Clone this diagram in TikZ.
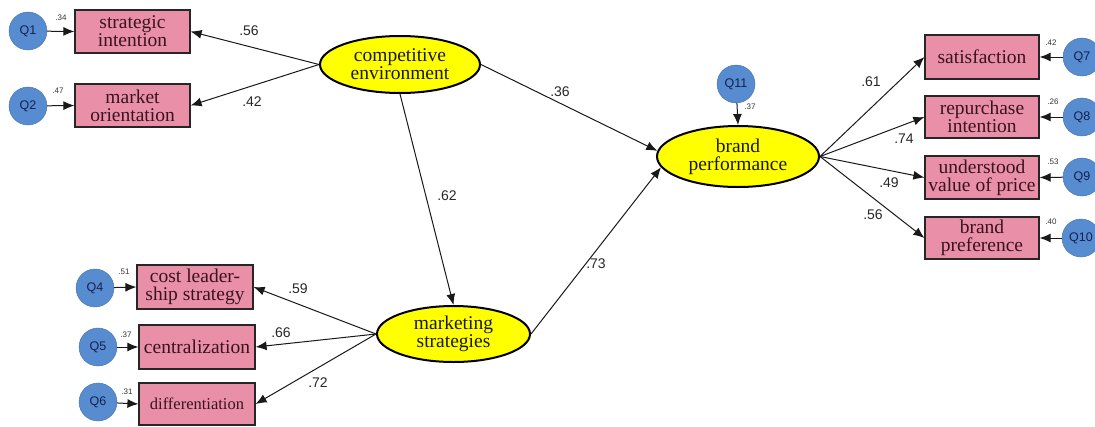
\documentclass[tikz,border=0pt]{standalone}
\usepackage{fontspec}
\setmainfont{Liberation Serif}
\newfontfamily\numfont{Liberation Sans}
\usetikzlibrary{shapes.geometric,arrows.meta}
\definecolor{boxpink}{RGB}{234,143,168}
\definecolor{qblue}{RGB}{88,140,208}
\definecolor{qtext}{RGB}{22,32,80}
\definecolor{latyellow}{RGB}{255,255,0}
\definecolor{boxtext}{RGB}{55,20,30}
\tikzset{
  obsbox/.style={draw=black!85, line width=1.2pt, fill=boxpink, text=boxtext, inner sep=0pt,
    minimum width=115pt, minimum height=43pt, align=center,
    font=\fontsize{19.5}{18}\selectfont},
  latent/.style={ellipse, draw=black, line width=2pt, fill=latyellow, inner sep=0pt,
    align=center, text=black!90, font=\fontsize{19.5}{18}\selectfont},
  errc/.style={circle, fill=qblue, draw=qblue!80!black, line width=0.4pt, minimum size=38pt,
    inner sep=0pt, text=qtext, font=\numfont\fontsize{12.5}{12.5}\selectfont},
  coef/.style={font=\numfont\fontsize{14}{14}\selectfont, inner sep=0pt, text=black!85},
  small/.style={font=\numfont\fontsize{8}{8}\selectfont, inner sep=0pt, text=black!80},
  path/.style={draw=black!90, line width=1pt, -{Latex[length=11pt,width=9pt]}},
}
\begin{document}
\begin{tikzpicture}[x=1pt,y=-1pt]
\useasboundingbox (0,0) rectangle (1095,426);
\clip (0,0) rectangle (1095,426);
% observed boxes
\node[obsbox] (si) at (132.5,31.5) {strategic\\intention};
\node[obsbox] (mo) at (132.5,105.5) {market\\orientation};
\node[obsbox, minimum width=116pt, minimum height=44pt] (cl) at (195,287) {cost leader-\\ship strategy};
\node[obsbox, minimum width=116pt, minimum height=44pt] (cz) at (197,347) {centralization};
\node[obsbox, minimum width=116pt, minimum height=42pt, font=\fontsize{16.5}{16}\selectfont] (di) at (197,404) {differentiation};
\node[obsbox, minimum width=114pt, minimum height=44pt] (sa) at (982,57) {satisfaction};
\node[obsbox, minimum width=114pt, minimum height=42pt] (ri) at (982,117) {repurchase\\intention};
\node[obsbox, minimum width=114pt, minimum height=43pt] (uv) at (982,177.5) {understood\\value of price};
\node[obsbox, minimum width=114pt, minimum height=42pt] (bf) at (982,238) {brand\\preference};
% latent ellipses
\node[latent, minimum width=160pt, minimum height=57pt] (ce) at (400,64.5) {competitive\\environment};
\node[latent, minimum width=153pt, minimum height=56pt] (ms) at (453.5,334) {marketing\\strategies};
\node[latent, minimum width=162pt, minimum height=61pt] (bp) at (738,156.5) {brand\\performance};
% error circles
\node[errc] (q1) at (28,31) {Q1};
\node[errc] (q2) at (28,106) {Q2};
\node[errc] (q4) at (95,288) {Q4};
\node[errc] (q5) at (98,347) {Q5};
\node[errc] (q6) at (98,402) {Q6};
\node[errc] (q7) at (1082,57) {Q7};
\node[errc] (q8) at (1082,117) {Q8};
\node[errc] (q9) at (1082,177) {Q9};
\node[errc] (q10) at (1081,238) {Q10};
\node[errc] (q11) at (736,84) {Q11};
% error arrows
\draw[path] (q1) -- (si.west);
\draw[path] (q2) -- (mo.west);
\draw[path] (q4) -- (cl.west);
\draw[path] (q5) -- (cz.west);
\draw[path] (q6) -- (di.west);
\draw[path] (q7) -- (sa.east);
\draw[path] (q8) -- (ri.east);
\draw[path] (q9) -- (uv.east);
\draw[path] (q10) -- (bf.east);
\draw[path] (q11) -- (bp.north);
% structural / loading arrows
\draw[path] (ce.west) -- (si.east);
\draw[path] (ce.west) -- (mo.east);
\draw[path] (ce.south) -- (ms.north);
\draw[path] (ce.east) -- (bp.176);
\draw[path] (ms.east) -- (bp.188);
\draw[path] (ms.west) -- (cl.east);
\draw[path] (ms.west) -- (cz.east);
\draw[path] (ms.west) -- (di.east);
\draw[path] (bp.east) -- (sa.west);
\draw[path] (bp.east) -- (ri.west);
\draw[path] (bp.east) -- (uv.west);
\draw[path] (bp.east) -- (bf.west);
% coefficients
\node[coef] (c56) at (249,31) {.56};
\node[coef] (c42) at (252,102) {.42};
\node[coef] (c62) at (447,196) {.62};
\node[coef] (c36) at (560,92) {.36};
\node[coef] (c73) at (596,264) {.73};
\node[coef] (c59) at (298,289) {.59};
\node[coef] (c66) at (281,333) {.66};
\node[coef] (c72) at (318,383) {.72};
\node[coef] (c61) at (871,82) {.61};
\node[coef] (c74) at (904,139) {.74};
\node[coef] (c49) at (889,183) {.49};
\node[coef] (c56b) at (873,215) {.56};
% small values
\node[small] (s34) at (61,18) {.34};
\node[small] (s47) at (58,91) {.47};
\node[small] (s51) at (124,272) {.51};
\node[small] (s37) at (126,335) {.37};
\node[small] (s31) at (127,392) {.31};
\node[small] (s42) at (1051,43) {.42};
\node[small] (s26) at (1053,102) {.26};
\node[small] (s53) at (1053,162) {.53};
\node[small] (s40) at (1051,222) {.40};
\node[small] (s37b) at (750,107) {.37};
\end{tikzpicture}
\end{document}
